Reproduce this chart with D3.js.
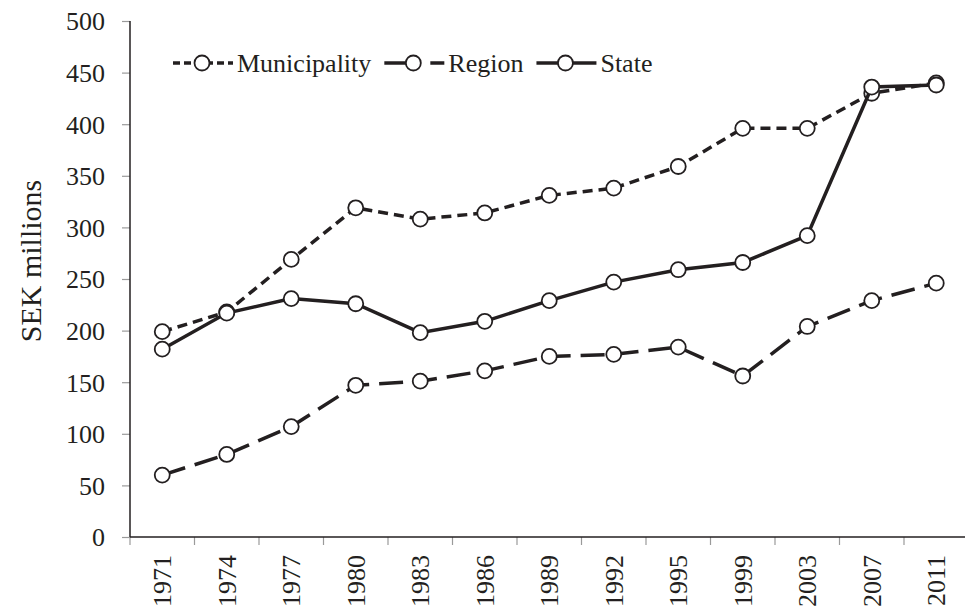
<!DOCTYPE html>
<html>
<head>
<meta charset="utf-8">
<script src="https://cdnjs.cloudflare.com/ajax/libs/d3/7.8.5/d3.min.js"></script>
<style>
  body { margin: 0; background: #fff; }
  svg { display: block; font-family: "Liberation Serif", "Times New Roman", serif; }
</style>
</head>
<body>
<div id="chart"></div>
<script>
// data
var years = ["1971","1974","1977","1980","1983","1986","1989","1992","1995","1999","2003","2007","2011"];
var municipality = [199, 218, 269, 319, 308, 314, 331, 338, 359, 396, 396, 430, 440];
var region = [60, 80, 107, 147, 151, 161, 175, 177, 184, 156, 204, 229, 246];
var state = [182, 217, 231, 226, 198, 209, 229, 247, 259, 266, 292, 436, 438];
var yTicks = [0, 50, 100, 150, 200, 250, 300, 350, 400, 450, 500];

var series = [
  {name: "Municipality", values: municipality, dash: "10,6", legendDash: "7,4"},
  {name: "Region", values: region, dash: "24,10", legendDash: "26,20"},
  {name: "State", values: state, dash: null, legendDash: null}
];

var W = 965, H = 611;
var ink = "#231f20";
var serif = '"Liberation Serif", "Times New Roman", serif';

var svg = d3.select("#chart").append("svg")
  .attr("width", W)
  .attr("height", H);

// scales
var x = d3.scaleBand().domain(years).range([130, 130 + 13 * 64.5]);
var y = d3.scaleLinear().domain([0, 500]).range([537, 21]);

// y axis
var yAxis = svg.append("g")
  .attr("transform", "translate(130,0)")
  .call(d3.axisLeft(y).tickValues(yTicks).tickSize(8).tickPadding(17))
  .attr("font-family", serif)
  .attr("font-size", 26);
yAxis.select(".domain").remove();
yAxis.selectAll(".tick line").attr("stroke", "#9a9a9a").attr("stroke-width", 1.2);
yAxis.selectAll(".tick text")
  .attr("fill", ink)
  .attr("dy", "0.34em");
svg.append("line")
  .attr("x1", 130).attr("x2", 130)
  .attr("y1", y(500)).attr("y2", y(0))
  .attr("stroke", ink).attr("stroke-width", 1.5);

// x axis: ticks between categories, labels rotated
var xg = svg.append("g");
xg.selectAll("line.tk")
  .data(years)
  .enter().append("line")
  .attr("class", "tk")
  .attr("x1", function(d) { return x(d); })
  .attr("x2", function(d) { return x(d); })
  .attr("y1", y(0)).attr("y2", y(0) + 8)
  .attr("stroke", "#9a9a9a").attr("stroke-width", 1.2);
xg.append("line")
  .attr("x1", 130).attr("x2", W)
  .attr("y1", y(0)).attr("y2", y(0))
  .attr("stroke", ink).attr("stroke-width", 1.5);
xg.selectAll("text")
  .data(years)
  .enter().append("text")
  .attr("transform", function(d) {
    return "translate(" + (x(d) + x.bandwidth() / 2 + 9) + "," + (y(0) + 18) + ") rotate(-90)";
  })
  .attr("text-anchor", "end")
  .attr("fill", ink)
  .style("font-size", "26px")
  .text(function(d) { return d; });

// y title
svg.append("text")
  .attr("transform", "translate(41,261) rotate(-90)")
  .attr("text-anchor", "middle")
  .attr("fill", ink)
  .style("font-size", "30px")
  .text("SEK millions");

// lines and markers
var line = d3.line()
  .x(function(d, i) { return x(years[i]) + x.bandwidth() / 2; })
  .y(function(d) { return y(d); });

series.forEach(function(s) {
  var g = svg.append("g");
  g.append("path")
    .datum(s.values)
    .attr("d", line)
    .attr("fill", "none")
    .attr("stroke", ink)
    .attr("stroke-width", 3.5)
    .attr("stroke-dasharray", s.dash);
  g.selectAll("circle")
    .data(s.values)
    .enter().append("circle")
    .attr("cx", function(d, i) { return x(years[i]) + x.bandwidth() / 2; })
    .attr("cy", function(d) { return y(d); })
    .attr("r", 7.5)
    .attr("fill", "#fff")
    .attr("stroke", ink)
    .attr("stroke-width", 1.8);
});

// legend
var legend = svg.append("g").attr("transform", "translate(0,63)");
var lx = 173;
series.forEach(function(s) {
  var item = legend.append("g").attr("transform", "translate(" + lx + ",0)");
  item.append("line")
    .attr("x1", 0).attr("x2", 60)
    .attr("y1", 0).attr("y2", 0)
    .attr("stroke", ink).attr("stroke-width", 3.5)
    .attr("stroke-dasharray", s.legendDash);
  item.append("circle")
    .attr("cx", 29).attr("cy", 0).attr("r", 7.5)
    .attr("fill", "#fff").attr("stroke", ink).attr("stroke-width", 1.8);
  var t = item.append("text")
    .attr("x", 64).attr("dy", "0.34em")
    .attr("fill", ink)
    .style("font-size", "26px")
    .text(s.name);
  lx += 64 + t.node().getComputedTextLength() + 13;
});
</script>
</body>
</html>
